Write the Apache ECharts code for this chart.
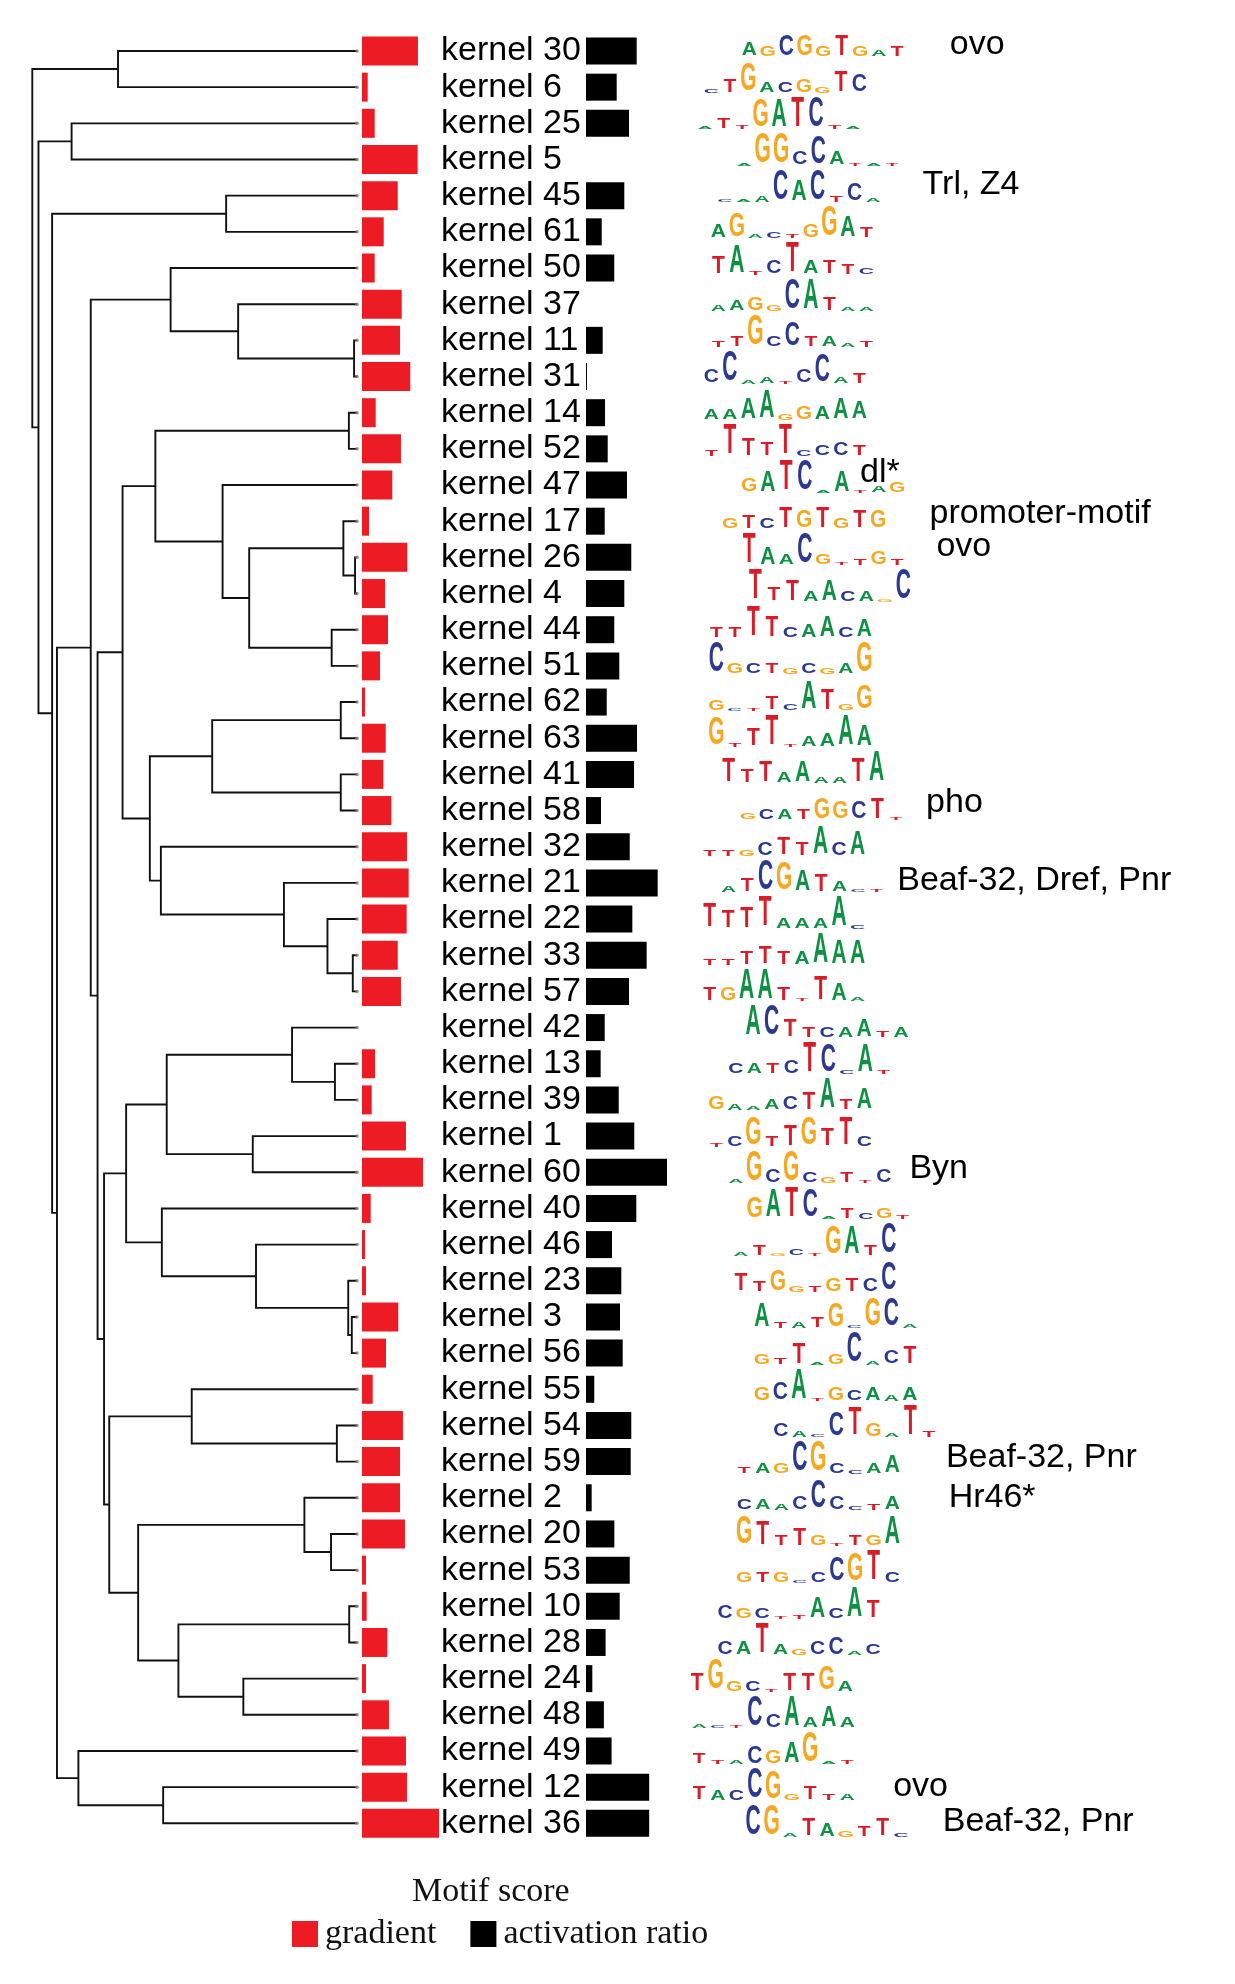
<!DOCTYPE html>
<html><head><meta charset="utf-8">
<script src="https://cdn.jsdelivr.net/npm/echarts@6/dist/echarts.min.js"></script>
<style>html,body{margin:0;padding:0;background:#fff}#c{width:1235px;height:1984px}</style>
</head><body><div id="c"></div><script>
// ---- data ----
const kernels = ['kernel 30','kernel 6','kernel 25','kernel 5','kernel 45','kernel 61','kernel 50','kernel 37','kernel 11','kernel 31','kernel 14','kernel 52','kernel 47','kernel 17','kernel 26','kernel 4','kernel 44','kernel 51','kernel 62','kernel 63','kernel 41','kernel 58','kernel 32','kernel 21','kernel 22','kernel 33','kernel 57','kernel 42','kernel 13','kernel 39','kernel 1','kernel 60','kernel 40','kernel 46','kernel 23','kernel 3','kernel 56','kernel 55','kernel 54','kernel 59','kernel 2','kernel 20','kernel 53','kernel 10','kernel 28','kernel 24','kernel 48','kernel 49','kernel 12','kernel 36'];
const gradient = [0.727,0.074,0.165,0.723,0.464,0.282,0.165,0.516,0.494,0.627,0.178,0.506,0.394,0.091,0.588,0.299,0.338,0.234,0.039,0.308,0.277,0.381,0.584,0.606,0.580,0.464,0.506,0,0.169,0.126,0.571,0.792,0.113,0.039,0.052,0.471,0.312,0.139,0.532,0.494,0.494,0.558,0.052,0.061,0.329,0.052,0.350,0.571,0.584,1.0];
const activation = [0.626,0.379,0.531,0,0.473,0.194,0.349,0,0.206,0.012,0.235,0.268,0.506,0.231,0.559,0.473,0.349,0.411,0.256,0.630,0.593,0.185,0.540,0.885,0.572,0.749,0.531,0.231,0.181,0.404,0.596,1.0,0.621,0.321,0.436,0.420,0.453,0.102,0.559,0.552,0.070,0.350,0.540,0.416,0.242,0.078,0.221,0.316,0.780,0.780];
// dendrogram linkage: [childA, childB, height]; children < 50 are rows, >= 50 are earlier merges (50 + index)
const merges = [
 [0,1,0.736],[2,3,0.879],[4,5,0.403],[8,9,0.009],[7,53,0.366],[6,54,0.574],[10,11,0.025],[14,15,0.006],
 [13,57,0.042],[16,17,0.078],[58,59,0.332],[12,60,0.414],[56,61,0.621],[18,19,0.050],[20,21,0.050],[63,64,0.446],
 [25,26,0.013],[24,66,0.091],[23,67,0.225],[22,68,0.604],[65,69,0.638],[62,70,0.722],[28,29,0.068],[27,72,0.200],
 [30,31,0.321],[73,74,0.586],[35,36,0.016],[34,76,0.027],[33,77,0.311],[32,78,0.601],[75,79,0.711],[38,39,0.062],
 [37,81,0.509],[41,42,0.080],[40,83,0.162],[43,44,0.024],[45,46,0.350],[85,86,0.550],[84,87,0.674],[82,88,0.763],
 [80,89,0.779],[71,90,0.799],[55,91,0.820],[48,49,0.597],[47,93,0.858],[92,94,0.924],[52,95,0.939],[51,96,0.981],[50,97,1.000]
];
// sequence logos: letter + relative height (0-9) per motif column
const logos = [
 'A4G3C6G6G3T6G3A2T3','C1T4G8A3C3G4G2T6C5','A0T3T1G8A8T9C9T1A0','A0G9G9C4C8A4T0A0T0','C0A0A2C9A6C9T2C5A1',
 'A4G7A1C2T1G4G9A6T3','T5A8T1C4T9A4T4T3C2','A2A3G4G2C9A9T4A1A1','T2T3G9C3C7T3A3A1T2','C4C9A1A2T0C4C8A2T3',
 'A3A3A6A8G2G4A4A6A5','T2T9T5T4T9C2C3C4T3','G4A6T9C9A0A6T0A2G3','G3T4C3T6G5T6G3T5G5','T9A5A3C9G3T0T2G4T2',
 'T9T4T6A3A6C3A3G0C9','T3T3T9T6C3A4A6C3A5','C9G3C3T3G2C3G2A3G9','G3C0T0T4C2A8T6G2G7','G8T1T5T9T0A3A4A9A6',
 'T7T4T6A3A6A2A2T7A9','G2C3A3T3G6G5C5T6T0','T2T2G2C4T5T4A8C4A7','A2T4C9G8A6T5A3C0T0','T7T5T6T9A3A3A3A9C1',
 'T2T2T4T5T4A4A9A7A7','T4G4A9A9T4T0T7A5A1','A9C9T5T3C3A3A5T2A3','C3A3T3C4T9C8C1A8T1','G4A2A1A3C4T5A9T3A6',
 'T1C3G8T3T6G8T5T8C3','A1G9C4G9C3G2T3T0C4','G6A8T9C8A0T3C2G3T1','A1T3G0C2T0G8A8T3C9','T5T3G6G2T2G4T4C4C8',
 'A7T2A2T3G7C0G8C8A1','G3T2T6A0G3C9A1C4T5','G4C5A9T0G4C3A4A2A4','C4A2C0C7T8G4A1T9T2','T2A3G3C9G9C3C1A3A5',
 'C3A3A2C4C8C4C1T2A4','G8T7T3T5G3T0T3G3A8','G3T3G3C0C3C7G8T9C3','C4G3C3T0T1A6C3A9T5','C4A4T9A3G2C4C5A1C3',
 'T5G9G3C3T0T5T5G7A3','A1C0T0C9C4A9A3A6A3','T3T1A1C5G4A6G9A0T1','T4A3C3C9G8G2T4T2A2','C9G9A1T5A4G2T3T5C1'
];
// column at which each logo starts (motif alignment)
const logoStart = [2.81,0.76,0.43,2.54,1.51,1.14,1.14,1.14,1.14,0.76,0.76,0.76,2.81,1.78,2.81,3.14,1.03,1.03,1.03,1.03,
 1.70,2.74,0.67,1.70,0.67,0.67,0.67,3.02,2.08,1.03,1.03,2.08,3.11,2.36,2.36,3.49,3.49,3.49,4.52,2.54,2.54,2.54,2.54,1.51,1.51,0,0.11,0.11,0.11,3.02];
const annRows = [0,4,12,13,14,21,23,31,39,40,48,49];
const annTexts = ['ovo','Trl, Z4','dl*','promoter-motif','ovo','pho','Beaf-32, Dref, Pnr','Byn','Beaf-32, Pnr','Hr46*','ovo','Beaf-32, Pnr'];
const annCols = [14.15,12.68,9.30,13.06,13.43,12.87,11.31,11.97,13.94,14.09,11.09,13.77];
const annDy = [-6,-11,-12,-8,-11,-8,-2,-4,-4,0,-1,-2];

// ---- derived ----
const N = kernels.length;
const nodeY = [];
function cy(c){ return c < N ? c : nodeY[c - N]; }
function ch(c){ return c < N ? 0 : merges[c - N][2]; }
merges.forEach((m,i)=>{ nodeY[i] = (cy(m[0]) + cy(m[1]))/2; });

const baseColors = {A:'#0f9143', C:'#2b3990', G:'#f7a823', T:'#d71e28'};
const TOP = 32.9, H = 1808.5;
const gridBase = {top: TOP, height: H, containLabel: false, outerBoundsMode: 'none'};
const chart = echarts.init(document.getElementById('c'), null, {renderer:'canvas'});
const F = 20;
chart.setOption({
  animation: false,
  backgroundColor: '#fff',
  title: {text: 'Motif score', left: 412, top: 1875, padding: 0,
    textStyle: {fontFamily: 'Liberation Serif', fontWeight: 'normal', fontSize: 34, color: '#111'}},
  legend: {data: ['gradient','activation ratio'], left: 292, top: 1917, padding: 0, itemWidth: 26, itemHeight: 26,
    itemGap: 34, icon: 'rect', textStyle: {fontFamily: 'Liberation Serif', fontSize: 34, color: '#111', padding: [0,0,0,2]}},
  grid: [
    Object.assign({left: 32.3, width: 324.7}, gridBase),
    Object.assign({left: 362, width: 77}, gridBase),
    Object.assign({left: 586, width: 81}, gridBase),
    Object.assign({left: 688, width: 277.5}, gridBase)
  ],
  xAxis: [
    {gridIndex: 0, type: 'value', min: 0, max: 1, inverse: true, show: false},
    {gridIndex: 1, type: 'value', min: 0, max: 1, show: false},
    {gridIndex: 2, type: 'value', min: 0, max: 1, show: false},
    {gridIndex: 3, type: 'value', min: 0, max: 15, show: false}
  ],
  yAxis: [
    {gridIndex: 0, type: 'value', min: -0.5, max: N - 0.5, inverse: true, show: false},
    {gridIndex: 1, type: 'category', data: kernels, inverse: true, show: false},
    {gridIndex: 2, type: 'category', data: kernels, inverse: true,
      axisLine: {show: false}, axisTick: {show: false}, splitLine: {show: false},
      axisLabel: {interval: 0, align: 'left', margin: 145, fontSize: 34, fontFamily: 'Liberation Sans', color: '#000', hideOverlap: false}},
    {gridIndex: 3, type: 'value', min: -0.5, max: N - 0.5, inverse: true, show: false}
  ],
  series: [
    {type: 'custom', xAxisIndex: 0, yAxisIndex: 0, silent: true,
      data: merges.map((m,i)=>[m[2], nodeY[i]]),
      renderItem: function(params, api){
        const m = merges[params.dataIndex];
        const h = m[2], a = m[0], b = m[1];
        const pts = [
          api.coord([ch(a), cy(a)]), api.coord([h, cy(a)]),
          api.coord([h, cy(b)]), api.coord([ch(b), cy(b)])
        ];
        return {type: 'polyline', shape: {points: pts}, style: {stroke: '#111', lineWidth: 1.9, fill: null}};
      }},
    {type: 'scatter', xAxisIndex: 0, yAxisIndex: 0, silent: true, symbolSize: 3.5,
      itemStyle: {color: '#777'}, data: kernels.map((k,i)=>[0,i])},
    {name: 'gradient', type: 'bar', xAxisIndex: 1, yAxisIndex: 1, data: gradient, barWidth: 29,
      itemStyle: {color: '#ed1c24'}},
    {name: 'activation ratio', type: 'bar', xAxisIndex: 2, yAxisIndex: 2, data: activation, barWidth: 27,
      itemStyle: {color: '#000'}},
    {type: 'custom', xAxisIndex: 3, yAxisIndex: 3, silent: true,
      data: logos.map((s,i)=>[logoStart[i], i]),
      renderItem: function(params, api){
        const i = params.dataIndex, s = logos[i];
        const children = [];
        const baseOff = 6 + 8 * i / (N - 1);
        for (let j = 0; j < s.length/2; j++) {
          const L = s[2*j], d = +s[2*j+1];
          const p = api.coord([logoStart[i] + j + 0.5, i]);
          const hh = Math.max(2, d/9*31);
          const base = p[1] + baseOff;
          children.push({type: 'text', x: p[0], y: base - hh/2, scaleX: 1.05, scaleY: hh/(0.716*F),
            style: {text: L, fontSize: F, fontFamily: 'Liberation Sans', fontWeight: 'bold', fill: baseColors[L],
              align: 'center', verticalAlign: 'middle', textAlign: 'center', textVerticalAlign: 'middle'}});
        }
        return {type: 'group', children: children};
      }},
    {type: 'custom', xAxisIndex: 3, yAxisIndex: 3, silent: true,
      data: annRows.map((r,k)=>[annCols[k], r]),
      renderItem: function(params, api){
        const k = params.dataIndex;
        const p = api.coord([annCols[k], annRows[k]]);
        return {type: 'text', x: p[0], y: p[1] + annDy[k],
          style: {text: annTexts[k], fontSize: 34, fontFamily: 'Liberation Sans', fill: '#000',
            align: 'left', verticalAlign: 'middle', textAlign: 'left', textVerticalAlign: 'middle'}};
      }}
  ]
});
</script></body></html>
